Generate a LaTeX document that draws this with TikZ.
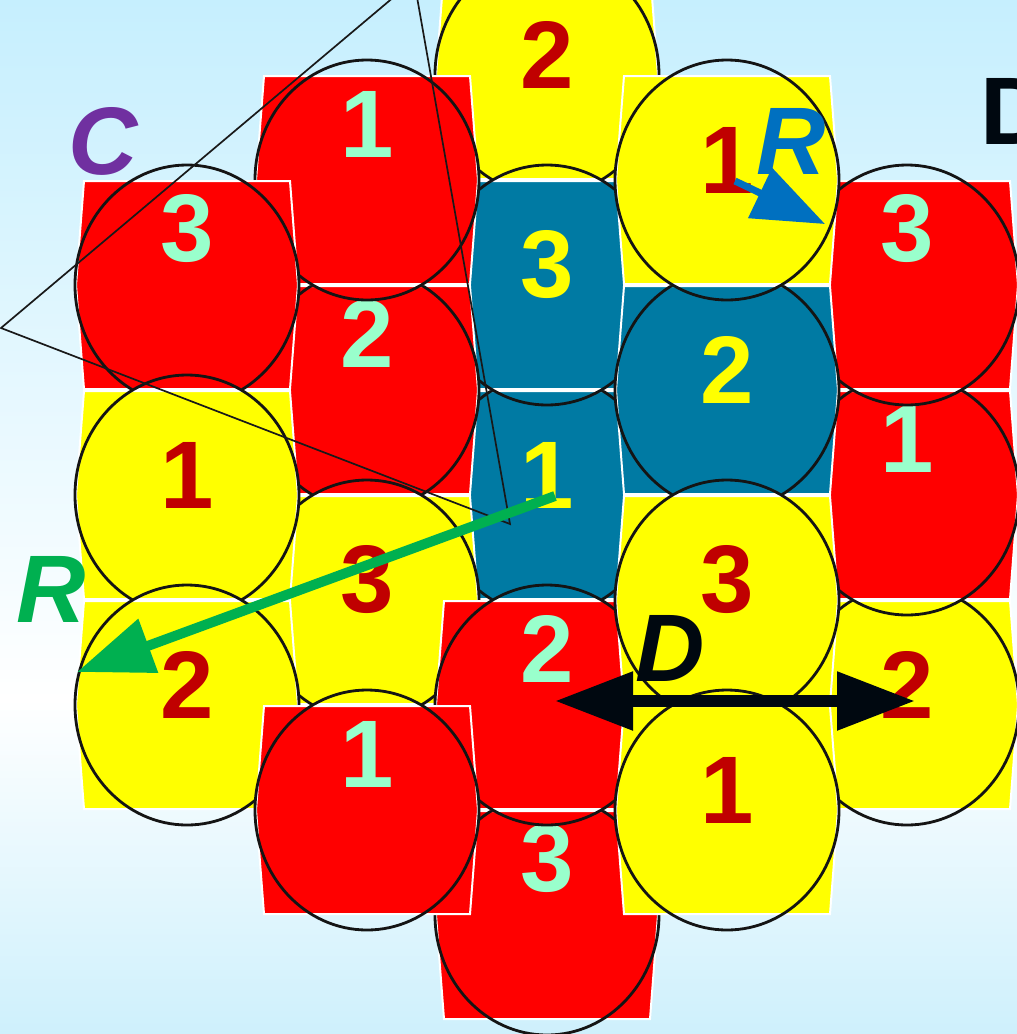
\documentclass[tikz,border=0pt]{standalone}
\usepackage{fontspec}
\setmainfont{Liberation Sans}
\usetikzlibrary{arrows.meta}

\definecolor{bgtop}{RGB}{198,239,254}
\definecolor{bgbot}{RGB}{206,240,252}
\definecolor{cellred}{RGB}{255,0,0}
\definecolor{cellyellow}{RGB}{255,255,0}
\definecolor{cellblue}{RGB}{0,122,163}
\definecolor{mint}{RGB}{153,255,204}
\definecolor{darkred}{RGB}{192,0,0}
\definecolor{rgreen}{RGB}{0,176,80}
\definecolor{rblue}{RGB}{0,112,192}
\definecolor{cpurple}{RGB}{112,48,160}
\definecolor{dblack}{RGB}{0,8,16}

% one cell: name, x, y, colour, number
\newcommand{\drawcell}[5]{%
  \path[hex, fill=cell#4] (#2,#3) ++(-103,-104) -- ++(206,0) -- ++(8,104)
    -- ++(-8,104) -- ++(-206,0) -- ++(-8,-104) -- cycle;
  \draw[ring] (#2,#3) ellipse [x radius=112pt, y radius=120pt];
  \node[num#4] (#1) at (#2,#3) {#5};
}

\begin{document}
\begin{tikzpicture}[
    x=1pt, y=-1pt,
    hex/.style={draw=white, line width=2pt},
    ring/.style={draw=black!92, line width=2.8pt},
    digit/.style={inner sep=0pt, font=\fontsize{96}{96}\selectfont\bfseries},
    numred/.style={digit, text=mint, yshift=56pt},
    numyellow/.style={digit, text=darkred, yshift=20pt},
    numblue/.style={digit, text=cellyellow, yshift=20pt},
    lbl/.style={inner sep=0pt, font=\fontsize{96}{96}\selectfont\bfseries\itshape},
    thinline/.style={draw=black!90, line width=1.7pt},
    darrow/.style={draw=dblack, line width=12pt,
      {Triangle[length=78pt,width=56pt]}-{Triangle[length=78pt,width=56pt]}},
    garrow/.style={draw=rgreen, line width=10pt, -{Triangle[length=76pt,width=55pt]}},
    barrow/.style={draw=rblue, line width=7pt, -{Triangle[length=72pt,width=54pt]}}
]
    \useasboundingbox (0,0) rectangle (1017,1034);
    \shade[top color=bgtop, bottom color=white] (0,0) rectangle (1017,700);
    \shade[top color=white, bottom color=bgbot] (0,699) rectangle (1017,1034);

    % outer right column
    \drawcell{e2}{907}{705}{yellow}{2}
    \drawcell{e1}{907}{495}{red}{1}
    \drawcell{e3}{907}{285}{red}{3}
    % middle column
    \drawcell{c2t}{547}{75}{yellow}{2}
    \drawcell{c1}{547}{495}{blue}{1}
    \drawcell{c3b}{547}{915}{red}{3}
    \drawcell{c3}{547}{285}{blue}{3}
    % second column
    \drawcell{b2}{367}{390}{red}{2}
    \drawcell{b1t}{367}{180}{red}{1}
    \drawcell{b3}{367}{600}{yellow}{3}
    % left column
    \drawcell{a3}{187}{285}{red}{3}
    \drawcell{a1}{187}{495}{yellow}{1}
    \drawcell{a2}{187}{705}{yellow}{2}
    \drawcell{c2}{547}{705}{red}{2}
    \drawcell{b1b}{367}{810}{red}{1}
    % fourth column
    \drawcell{d2}{727}{390}{blue}{2}
    \drawcell{d1t}{727}{180}{yellow}{1}
    \drawcell{d3}{727}{600}{yellow}{3}
    \drawcell{d1b}{727}{810}{yellow}{1}

    % cluster outline
    \coordinate (tA) at (414,-20);
    \coordinate (tB) at (1,328);
    \coordinate (tC) at (510,524);
    \draw[thinline] (tA) -- (tB) -- (tC) -- cycle;

    \coordinate (gS) at (555,496);
    \coordinate (gE) at (77,672);
    \coordinate (bS) at (735,181);
    \coordinate (bE) at (825,224);
    \coordinate (dL) at (555,701);
    \coordinate (dR) at (915,701);
    \draw[garrow] (gS) -- (gE);
    \draw[barrow] (bS) -- (bE);
    \draw[darrow] (dL) -- (dR);

    \node[lbl, text=cpurple] (lblC) at (103,141) {C};
    \node[lbl, text=rblue] (lblRb) at (791,141) {R};
    \node[lbl, text=rgreen] (lblRg) at (51,589) {R};
    \node[lbl, text=dblack] (lblD) at (670,648) {D};
    \node[inner sep=0pt, font=\fontsize{96}{96}\selectfont\bfseries, text=dblack,
      anchor=west] (lblDtop) at (980,111) {D};
\end{tikzpicture}
\end{document}
